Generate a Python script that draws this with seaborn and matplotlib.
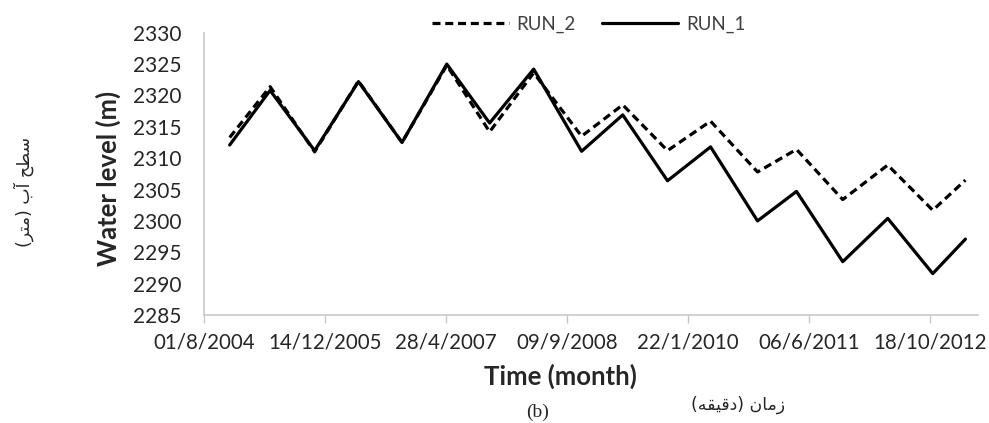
"""Water level over time for two model runs (RUN_1 / RUN_2)."""
import matplotlib
matplotlib.use('Agg')
import matplotlib.pyplot as plt
import seaborn as sns
import pandas as pd

# %%
# values (turning points of each run)
dates = ['2004-11-15', '2005-05-01', '2005-11-01', '2006-05-01', '2006-10-28',
         '2007-05-01', '2007-10-25', '2008-04-24', '2008-11-08', '2009-04-27',
         '2009-10-29', '2010-04-25', '2010-11-05', '2011-04-15', '2011-10-23',
         '2012-04-26', '2012-10-29', '2013-03-13']
run_1 = [2312.1, 2320.8, 2311.2, 2322.2, 2312.5, 2325.0, 2315.6, 2324.2, 2311.1,
         2316.9, 2306.4, 2311.8, 2300.0, 2304.7, 2293.5, 2300.4, 2291.6, 2297.1]
run_2 = [2313.3, 2321.4, 2311.0, 2322.3, 2312.5, 2324.8, 2314.2, 2323.6, 2313.5,
         2318.5, 2311.2, 2315.9, 2307.8, 2311.4, 2303.4, 2308.9, 2301.7, 2306.5]

tick_dates = ['2004-08-01', '2005-12-14', '2007-04-28', '2008-09-09',
              '2010-01-22', '2011-06-06', '2012-10-18']
tick_labels = ['01/8/2004', '14/12/2005', '28/4/2007', '09/9/2008',
               '22/1/2010', '06/6/2011', '18/10/2012']
y_ticks = list(range(2285, 2331, 5))

fa_ylabel = 'سطح آب (متر)'
fa_xlabel = 'زمان (دقیقه)'

# %%
# matplotlib has no arabic shaping, so pick presentation forms by hand
FORMS = {
    'س': ('\uFEB1', '\uFEB2', '\uFEB3', '\uFEB4'),
    'ط': ('\uFEC1', '\uFEC2', '\uFEC3', '\uFEC4'),
    'ح': ('\uFEA1', '\uFEA2', '\uFEA3', '\uFEA4'),
    'آ': ('\uFE81', '\uFE82', None, None),
    'ب': ('\uFE8F', '\uFE90', '\uFE91', '\uFE92'),
    'م': ('\uFEE1', '\uFEE2', '\uFEE3', '\uFEE4'),
    'ت': ('\uFE95', '\uFE96', '\uFE97', '\uFE98'),
    'ر': ('\uFEAD', '\uFEAE', None, None),
    'ز': ('\uFEAF', '\uFEB0', None, None),
    'ا': ('\uFE8D', '\uFE8E', None, None),
    'ن': ('\uFEE5', '\uFEE6', '\uFEE7', '\uFEE8'),
    'د': ('\uFEA9', '\uFEAA', None, None),
    'ق': ('\uFED5', '\uFED6', '\uFED7', '\uFED8'),
    'ی': ('\uFBFC', '\uFBFD', '\uFBFE', '\uFBFF'),
    'ه': ('\uFEE9', '\uFEEA', '\uFEEB', '\uFEEC'),
}


def shape_fa(s):
    out = []
    for i, c in enumerate(s):
        if c not in FORMS:
            out.append(c)
            continue
        prev = s[i - 1] if i > 0 else ''
        nxt = s[i + 1] if i + 1 < len(s) else ''
        dual = FORMS[c][2] is not None
        j_prev = prev in FORMS and FORMS[prev][2] is not None
        j_next = nxt in FORMS and dual
        if j_prev and j_next:
            out.append(FORMS[c][3])
        elif j_prev:
            out.append(FORMS[c][1])
        elif j_next:
            out.append(FORMS[c][2])
        else:
            out.append(FORMS[c][0])
    mirror = {'(': ')', ')': '('}
    return ''.join(mirror.get(c, c) for c in reversed(out))


# %%
df = pd.DataFrame({'date': pd.to_datetime(dates), 'RUN_1': run_1, 'RUN_2': run_2})

sns.set_style('white')
plt.rcParams['font.family'] = ['Lato', 'DejaVu Sans']

fig = plt.figure(figsize=(9.89, 4.23), dpi=100)
ax = fig.add_axes([0.2063, 0.2553, 0.7826, 0.6674])

sns.lineplot(data=df, x='date', y='RUN_2', ax=ax, color='black', lw=2.3,
             label='RUN_2', legend=False)
sns.lineplot(data=df, x='date', y='RUN_1', ax=ax, color='black', lw=2.3,
             label='RUN_1', legend=False)
ax.lines[0].set_dashes([2.5, 1.5])
for ln in ax.lines:
    ln.set_solid_joinstyle('round')
    ln.set_dash_joinstyle('round')

ax.set_ylim(2285, 2330)
ax.set_yticks(y_ticks)
ax.set_xlim(pd.Timestamp('2004-08-01'), pd.Timestamp('2004-08-01') + pd.Timedelta(days=3198))
ax.set_xticks(pd.to_datetime(tick_dates))
ax.set_xticklabels(tick_labels)

sns.despine(ax=ax)
for side in ['left', 'bottom']:
    ax.spines[side].set_color('#c8c8c8')
    ax.spines[side].set_linewidth(1.2)

ax.tick_params(axis='y', length=0, pad=16, labelsize=15, labelcolor='#262626')
ax.tick_params(axis='x', length=5.5, width=1.0, color='#c8c8c8', direction='out',
               pad=7, labelsize=14.8, labelcolor='#262626', bottom=True)

ax.set_ylabel('Water level (m)', fontsize=18.5, fontweight='bold')
ax.yaxis.set_label_coords(-0.107, 0.482)
ax.set_xlabel('Time (month)', fontsize=18.5, fontweight='bold')
ax.xaxis.set_label_coords(0.461, -0.172)

leg = fig.legend(handles=[ax.lines[0], ax.lines[1]], labels=['RUN_2', 'RUN_1'],
                 loc='center', bbox_to_anchor=(0.595, 0.942), ncol=2, frameon=False,
                 fontsize=13.5, handlelength=4.1, handletextpad=0.4, columnspacing=1.4)
for t in leg.get_texts():
    t.set_color('#404040')

fig.text(24 / 989, 1 - 192 / 423, shape_fa(fa_ylabel), rotation=90, ha='center',
         va='center', fontsize=12.5, family=['DejaVu Sans'])
fig.text(738 / 989, 1 - 405 / 423, shape_fa(fa_xlabel), ha='center', va='center',
         fontsize=12.5, family=['DejaVu Sans'])
fig.text(538 / 989, 1 - 412 / 423, '(b)', ha='center', va='center', fontsize=14,
         family=['Liberation Serif'])

fig.savefig('out.png', dpi=100)
